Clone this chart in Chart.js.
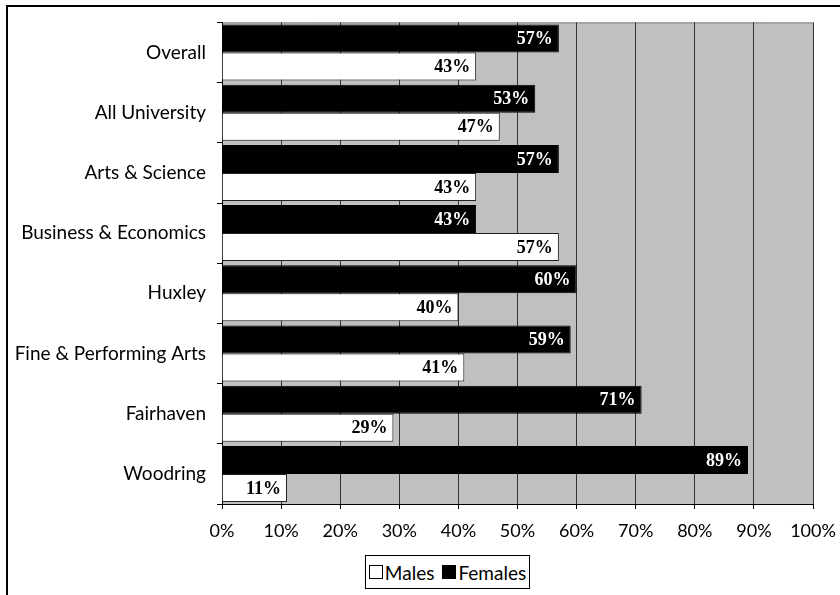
<!DOCTYPE html>
<html>
<head>
<meta charset="utf-8">
<script src="https://cdn.jsdelivr.net/npm/chart.js@4.4.0/dist/chart.umd.min.js"></script>
<style>
  html, body { margin: 0; padding: 0; background: #fff; overflow: hidden; }
  #wrap { position: relative; width: 840px; height: 595px; }
  #frame { position: absolute; left: 6px; top: 5px; width: 900px; height: 700px; border: 2px solid #000; box-sizing: border-box; pointer-events: none; }
  canvas { position: absolute; left: 0; top: 0; }
  #legend { position: absolute; left: 365px; top: 555px; width: 165px; height: 34px; box-sizing: border-box;
    border: 1px solid #000; background: #fff; display: flex; align-items: center; justify-content: center;
    font: 19px Lato, "Noto Sans", sans-serif; color: #000; white-space: nowrap; }
  #legend .sw { display: inline-block; width: 14px; height: 14px; box-sizing: border-box; border: 1px solid #000; margin-right: 2px; flex: none; }
  #legend .item { display: flex; align-items: center; margin: 0 4px; }
</style>
</head>
<body>
<div id="wrap">
  <canvas id="chart" width="840" height="595"></canvas>
  <div id="frame"></div>
  <div id="legend"></div>
</div>
<script>
const categories = ['Overall', 'All University', 'Arts & Science', 'Business & Economics',
  'Huxley', 'Fine & Performing Arts', 'Fairhaven', 'Woodring'];
const femaleShare = [57, 53, 57, 43, 60, 59, 71, 89];
const maleShare = [43, 47, 43, 57, 40, 41, 29, 11];
const xTicks = [0, 10, 20, 30, 40, 50, 60, 70, 80, 90, 100];

const sansFont = 'Lato, "Noto Sans", sans-serif';

document.addEventListener('DOMContentLoaded', () => {
  // gray plot background + thin gray top edge
  const plotBg = {
    id: 'plotBg',
    beforeDraw(chart) {
      const { ctx, chartArea: a } = chart;
      ctx.save();
      ctx.fillStyle = '#c0c0c0';
      ctx.fillRect(a.left, a.top, a.right - a.left, a.bottom - a.top);
      ctx.strokeStyle = '#808080';
      ctx.lineWidth = 1;
      ctx.beginPath();
      ctx.moveTo(a.left, a.top + 0.5);
      ctx.lineTo(a.right, a.top + 0.5);
      ctx.stroke();
      ctx.restore();
    }
  };

  // value labels inside the bar ends
  const barLabels = {
    id: 'barLabels',
    afterDatasetsDraw(chart) {
      const { ctx } = chart;
      ctx.save();
      ctx.font = 'bold 18px "Liberation Serif", serif';
      ctx.textAlign = 'right';
      ctx.textBaseline = 'middle';
      chart.data.datasets.forEach((ds, di) => {
        const meta = chart.getDatasetMeta(di);
        meta.data.forEach((bar, i) => {
          ctx.fillStyle = ds.labelColor;
          ctx.fillText(ds.data[i] + '%', bar.x - 6, bar.y + 1);
        });
      });
      ctx.restore();
    }
  };

  const ctx = document.getElementById('chart').getContext('2d');
  const chart = new Chart(ctx, {
    type: 'bar',
    data: {
      labels: categories,
      datasets: [
        {
          label: 'Females',
          data: femaleShare,
          backgroundColor: '#000',
          borderColor: '#000',
          borderWidth: 1,
          labelColor: '#fff',
          categoryPercentage: 0.93,
          barPercentage: 1.0
        },
        {
          label: 'Males',
          data: maleShare,
          backgroundColor: '#fff',
          borderColor: '#222',
          borderWidth: 1,
          labelColor: '#000',
          categoryPercentage: 0.93,
          barPercentage: 1.0
        }
      ]
    },
    options: {
      indexAxis: 'y',
      responsive: false,
      animation: false,
      layout: { padding: { left: 0, right: 27, top: 21, bottom: 0 } },
      plugins: {
        tooltip: { enabled: false },
        legend: { display: false }
      },
      scales: {
        x: {
          min: 0,
          max: 100,
          afterBuildTicks(scale) {
            scale.ticks = xTicks.map(v => ({ value: v }));
          },
          afterFit(scale) {
            scale.height = 91;
            scale.paddingLeft = 0;
            scale.paddingRight = 0;
          },
          grid: {
            color: '#333',
            lineWidth: 1,
            tickLength: 5,
            tickColor: '#000'
          },
          border: { color: '#000', width: 1 },
          ticks: {
            color: '#000',
            padding: 11,
            font: { family: sansFont, size: 18 },
            callback: v => v + '%'
          }
        },
        y: {
          afterFit(scale) { scale.width = 222; },
          grid: {
            offset: true,
            drawOnChartArea: false,
            tickLength: 5,
            tickColor: '#000'
          },
          border: { color: '#000', width: 1 },
          ticks: {
            color: '#000',
            padding: 11,
            font: { family: sansFont, size: 19 }
          }
        }
      }
    },
    plugins: [plotBg, barLabels]
  });

  // legend: Males first, as in the original
  const legend = document.getElementById('legend');
  chart.data.datasets.slice().reverse().forEach((ds) => {
    const item = document.createElement('span');
    item.className = 'item';
    const sw = document.createElement('span');
    sw.className = 'sw';
    sw.style.background = ds.backgroundColor;
    item.appendChild(sw);
    item.appendChild(document.createTextNode(ds.label));
    legend.appendChild(item);
  });
});
</script>
</body>
</html>
